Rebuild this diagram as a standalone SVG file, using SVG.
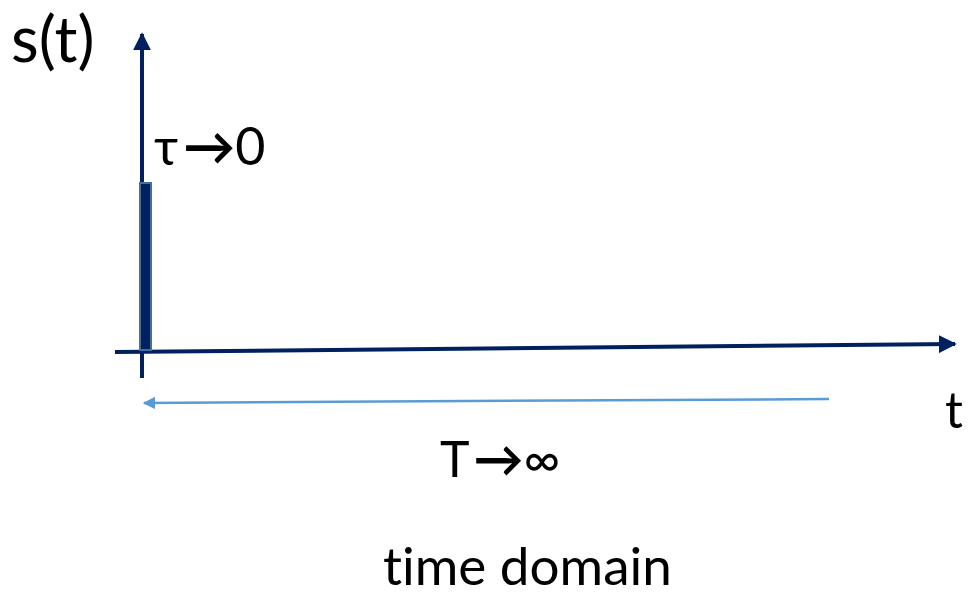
<svg xmlns="http://www.w3.org/2000/svg" width="969" height="597" viewBox="0 0 969 597">
  <style>
    .lbl { font-family: Lato, "Open Sans", "Liberation Sans", sans-serif; fill: #000; font-variant-ligatures: none; font-feature-settings: "liga" 0; }
    .axis { stroke: #002060; stroke-width: 4; fill: none; }
    .span { stroke: #5B9BD5; stroke-width: 2.5; fill: none; }
  </style>
  <defs>
    <marker id="axisHead" viewBox="0 0 10 10" refX="9" refY="5" markerWidth="4.5" markerHeight="4.5" orient="auto" markerUnits="strokeWidth">
      <path d="M0,0 L10,5 L0,10 Z" fill="#002060"/>
    </marker>
    <marker id="spanHead" viewBox="0 0 10 10" refX="9" refY="5" markerWidth="5" markerHeight="5" orient="auto" markerUnits="strokeWidth">
      <path d="M0,0 L10,5 L0,10 Z" fill="#5B9BD5"/>
    </marker>
  </defs>

  <g id="connectors">
    <!-- vertical s(t) axis -->
    <line class="axis" x1="142" y1="378" x2="142" y2="34" marker-end="url(#axisHead)"/>
    <!-- horizontal t axis -->
    <line class="axis" x1="115" y1="352" x2="955" y2="344" marker-end="url(#axisHead)"/>
    <!-- period span -->
    <line class="span" x1="829" y1="399" x2="144" y2="403" marker-end="url(#spanHead)"/>
  </g>

  <g id="pulse">
    <rect x="140" y="183" width="11" height="167" fill="#002060" stroke="#41719C" stroke-width="2"/>
  </g>

  <g id="labels">
    <text class="lbl" x="11" y="62" font-size="64">s(t)</text>
    <text class="lbl" x="154" y="165" font-size="52">τ<tspan font-weight="bold" dx="5">→</tspan>0</text>
    <text class="lbl" x="945" y="428" font-size="50">t</text>
    <text class="lbl" x="440" y="477" font-size="50">T<tspan font-weight="bold" dx="4">→</tspan>∞</text>
    <text class="lbl" x="383" y="585" font-size="53">time domain</text>
  </g>
</svg>
